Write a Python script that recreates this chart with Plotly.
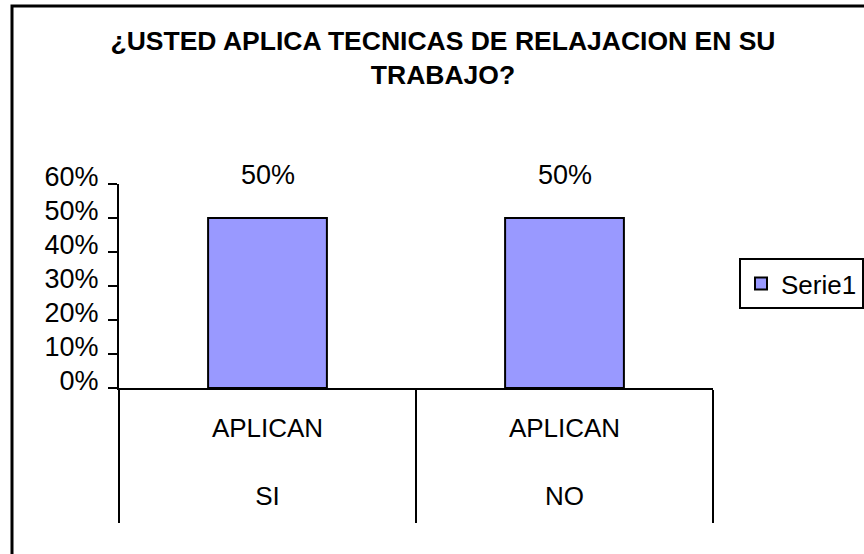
import plotly.graph_objects as go

title_text = "¿USTED APLICA TECNICAS DE RELAJACION EN SU<br>TRABAJO?"
group_label = "APLICAN"
answers = ["SI", "NO"]
values = [0.50, 0.50]
series_name = "Serie1"
y_ticks = [0, 0.1, 0.2, 0.3, 0.4, 0.5, 0.6]

tick_labels = [f"{group_label}<br><br>{a}" for a in answers]

FONT = "Liberation Sans, Arial, sans-serif"
W, H = 864, 554
L, R, T, B = 119, 151, 184, 166
pw, ph = W - L - R, H - T - B

def px_x(px):
    return (px - L) / pw

def px_y(py):
    return (H - B - py) / ph

fig = go.Figure()
fig.add_trace(go.Bar(
    x=answers, y=values, name=series_name, width=0.4,
    marker=dict(color="#9999FF", line=dict(color="black", width=2)),
    showlegend=True,
))

for a, v in zip(answers, values):
    fig.add_annotation(x=a, y=v, text=f"{v:.0%}", showarrow=False,
                       yanchor="bottom", yshift=26,
                       font=dict(family=FONT, size=27, color="black"))

fig.update_layout(
    width=W, height=H,
    margin=dict(l=L, r=R, t=T, b=B, pad=0, autoexpand=False),
    paper_bgcolor="white", plot_bgcolor="white",
    font=dict(family=FONT, size=26, color="black"),
    title=dict(text="<b>" + title_text + "</b>", x=443 / W, xanchor="center",
               y=1 - 50 / H, yanchor="top", xref="container", yref="container",
               font=dict(family=FONT, size=26.5, color="black")),
    showlegend=True,
    legend=dict(x=px_x(739), y=px_y(258), xanchor="left", yanchor="top",
                bordercolor="black", borderwidth=2, bgcolor="white",
                font=dict(family=FONT, size=26, color="black")),
    bargap=0.6,
)

fig.update_yaxes(range=[0, 0.6], tickvals=y_ticks, tickformat=".0%",
                 showgrid=False, zeroline=False,
                 showline=True, linecolor="black", linewidth=2,
                 ticks="outside", ticklen=9, tickwidth=2, tickcolor="black",
                 ticklabelstandoff=4, ticklabelshift=-7,
                 tickfont=dict(family=FONT, size=27, color="black"))

fig.update_xaxes(type="category", tickvals=answers, ticktext=tick_labels,
                 range=[-0.5, 1.5], showgrid=False, zeroline=False,
                 showline=True, linecolor="black", linewidth=2,
                 tickson="boundaries", ticks="outside", ticklen=133,
                 tickwidth=2, tickcolor="black",
                 ticklabelstandoff=16,
                 tickfont=dict(family=FONT, size=26, color="black"))

fig.add_shape(type="rect", xref="paper", yref="paper",
              x0=px_x(12), x1=px_x(876), y0=px_y(562), y1=px_y(6),
              line=dict(color="black", width=3), fillcolor="rgba(0,0,0,0)",
              layer="above")

fig.write_html("out.html", config={"displayModeBar": False},
               post_script="document.body.style.margin='0px';")
